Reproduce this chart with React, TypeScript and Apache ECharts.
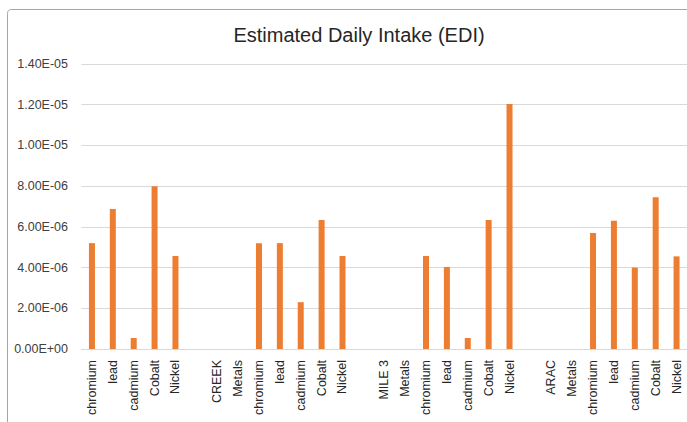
import React, { useEffect, useRef } from "react";
import * as echarts from "echarts";

const categories = [
  "chromium", "lead", "cadmium", "Cobalt", "Nickel", "",
  "CREEK", "Metals", "chromium", "lead", "cadmium", "Cobalt", "Nickel", "",
  "MILE 3", "Metals", "chromium", "lead", "cadmium", "Cobalt", "Nickel", "",
  "ARAC", "Metals", "chromium", "lead", "cadmium", "Cobalt", "Nickel",
];

const ediValues: (number | null)[] = [
  5.2e-6, 6.88e-6, 0.54e-6, 8.0e-6, 4.57e-6, null,
  null, null, 5.2e-6, 5.2e-6, 2.3e-6, 6.34e-6, 4.57e-6, null,
  null, null, 4.57e-6, 4.03e-6, 0.54e-6, 6.34e-6, 12.04e-6, null,
  null, null, 5.7e-6, 6.3e-6, 4.0e-6, 7.45e-6, 4.55e-6,
];

const titleText = "Estimated Daily Intake (EDI)";

function fmtSci(v: number): string {
  if (v === 0) return "0.00E+00";
  const exp = Math.floor(Math.log10(Math.abs(v)) + 1e-9);
  const mant = v / Math.pow(10, exp);
  const sign = exp < 0 ? "-" : "+";
  const e = Math.abs(exp).toString().padStart(2, "0");
  return mant.toFixed(2) + "E" + sign + e;
}

export default function App() {
  const ref = useRef<HTMLDivElement>(null);
  useEffect(() => {
    document.body.style.margin = "0";
    if (!ref.current) return;
    const chart = echarts.init(ref.current, undefined, { renderer: "svg" });
    chart.setOption({
      animation: false,
      backgroundColor: "#ffffff",
      title: {
        text: titleText,
        left: 354,
        textAlign: "center",
        top: 20,
        textStyle: {
          fontFamily: "Liberation Sans",
          fontSize: 20,
          fontWeight: "normal",
          color: "#262626",
        },
      },
      graphic: [
        {
          type: "rect",
          shape: { x: 7.5, y: 9.5, width: 720, height: 440, r: 4 },
          style: { fill: "none", stroke: "#a6a6a6", lineWidth: 1 },
          silent: true,
        },
      ],
      grid: { left: 81.5, right: -0.5, top: 64, bottom: 73, containLabel: false },
      xAxis: {
        type: "category",
        data: categories,
        axisLine: { lineStyle: { color: "#d9d9d9" } },
        axisTick: { show: false },
        axisLabel: {
          rotate: 90,
          interval: 0,
          margin: 11,
          fontFamily: "Liberation Sans",
          fontSize: 12.5,
          color: "#262626",
        },
      },
      yAxis: {
        type: "value",
        min: 0,
        max: 1.4e-5,
        interval: 2e-6,
        axisLine: { show: false },
        axisTick: { show: false },
        splitLine: { lineStyle: { color: "#d9d9d9" } },
        axisLabel: {
          formatter: (v: number) => fmtSci(v),
          margin: 13.5,
          fontFamily: "Liberation Sans",
          fontSize: 12.5,
          color: "#404040",
        },
      },
      series: [
        {
          type: "bar",
          data: ediValues,
          barWidth: 6,
          itemStyle: { color: "#ed7d31" },
        },
      ],
    });
    return () => chart.dispose();
  }, []);
  return <div ref={ref} style={{ width: 687, height: 422 }} />;
}
